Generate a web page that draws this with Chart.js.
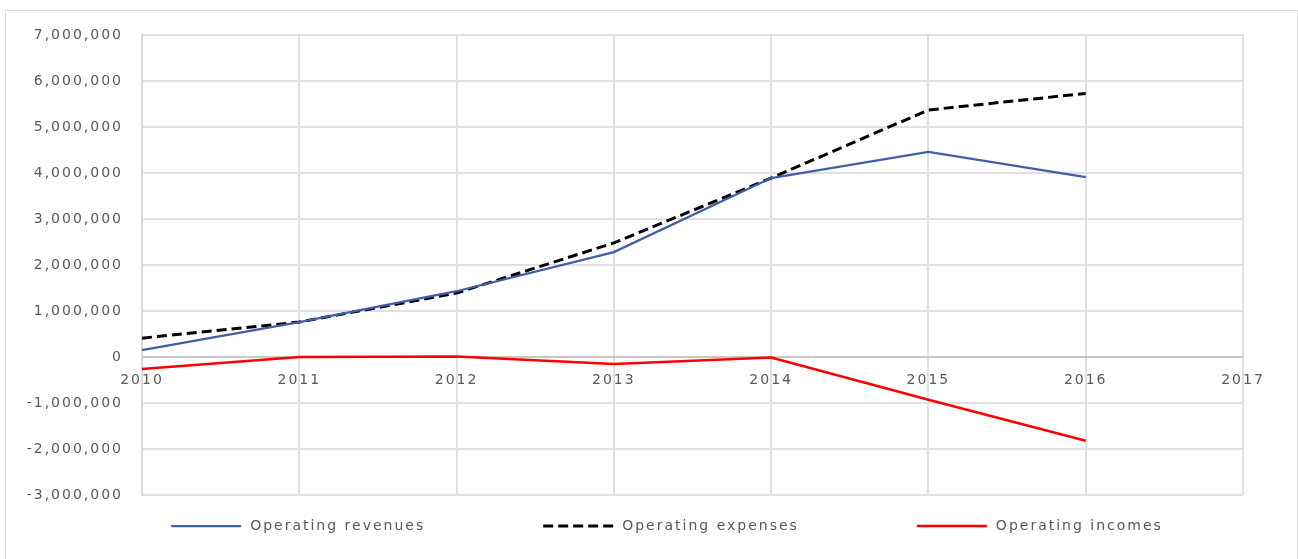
<!DOCTYPE html>
<html>
<head>
<meta charset="utf-8">
<script src="https://cdn.jsdelivr.net/npm/chart.js@4.4.1/dist/chart.umd.min.js"></script>
<style>
  body { margin: 0; background: #fff; overflow: hidden; }
  #wrap { position: relative; width: 1298px; height: 559px; }
  #frame { position: absolute; left: 5px; top: 10px; width: 1291px; height: 600px; border: 1px solid #d9d9d9; }
  #chart { position: absolute; left: 0; top: 0; }
</style>
</head>
<body>
<div id="wrap">
  <div id="frame"></div>
  <canvas id="chart" width="1298" height="559"></canvas>
</div>
<script>
// years on the category axis
var years = ['2010', '2011', '2012', '2013', '2014', '2015', '2016', '2017']
var revenues = [150000, 760000, 1430000, 2280000, 3890000, 4460000, 3910000, null]
var expenses = [410000, 760000, 1390000, 2480000, 3890000, 5370000, 5730000, null]
var incomes = [-260000, 0, 10000, -150000, -10000, -930000, -1820000, null]

var seriesNames = ['Operating revenues', 'Operating expenses', 'Operating incomes']
var yMin = -3000000
var yMax = 7000000
var yStep = 1000000

var textColor = '#595959'
var fontFamily = '"DejaVu Sans", sans-serif'

// wider lettering, the reference text is stretched
var spacing = {
    id: 'spacing',
    beforeUpdate: function (chart) { chart.ctx.letterSpacing = '2px' },
    beforeDraw: function (chart) { chart.ctx.letterSpacing = '2px' }
}

// legend drawn under the plot, items spaced out like the original
var bottomLegend = {
    id: 'bottomLegend',
    afterDraw: function (chart) {
        var ctx = chart.ctx
        var sets = chart.data.datasets
        var sample = 70, gapText = 9, gapItem = 118
        ctx.save()
        ctx.letterSpacing = '2px'
        ctx.font = '14px ' + fontFamily
        ctx.textBaseline = 'middle'
        var widths = sets.map(function (d) { return sample + gapText + ctx.measureText(d.label).width })
        var total = widths.reduce(function (a, b) { return a + b }, 0) + gapItem * (sets.length - 1)
        var x = 667 - total / 2
        var y = 526
        sets.forEach(function (d, i) {
            ctx.beginPath()
            ctx.strokeStyle = d.borderColor
            ctx.lineWidth = d.borderWidth
            ctx.setLineDash(d.borderDash || [])
            ctx.moveTo(x, y)
            ctx.lineTo(x + sample, y)
            ctx.stroke()
            ctx.setLineDash([])
            ctx.fillStyle = textColor
            ctx.fillText(d.label, x + sample + gapText, y)
            x += widths[i] + gapItem
        })
        ctx.restore()
    }
}

var ctx = document.getElementById('chart').getContext('2d')
var myChart = new Chart(ctx, {
    type: 'line',
    data: {
        labels: years,
        datasets: [{
            label: seriesNames[0],
            data: revenues,
            borderColor: '#3f5fa8',
            borderWidth: 2.25,
            pointRadius: 0,
            tension: 0
        }, {
            label: seriesNames[1],
            data: expenses,
            borderColor: '#000000',
            borderWidth: 3,
            borderDash: [10, 5],
            pointRadius: 0,
            tension: 0
        }, {
            label: seriesNames[2],
            data: incomes,
            borderColor: '#ff0000',
            borderWidth: 2.5,
            pointRadius: 0,
            tension: 0
        }]
    },
    options: {
        responsive: false,
        animation: false,
        layout: { padding: { left: 20, right: 55, top: 35, bottom: 64 } },
        plugins: {
            legend: { display: false },
            tooltip: { enabled: false }
        },
        scales: {
            x: {
                position: { y: 0 },
                offset: false,
                grid: { color: '#e0e0e0', lineWidth: 2, drawTicks: false },
                border: { color: '#c8c8c8', width: 2 },
                ticks: {
                    color: textColor,
                    font: { family: fontFamily, size: 14 },
                    padding: 15,
                    autoSkip: false,
                    maxRotation: 0
                }
            },
            y: {
                min: yMin,
                max: yMax,
                afterFit: function (scale) { scale.width = 122 },
                grid: { color: '#e0e0e0', lineWidth: 2, drawTicks: false },
                border: { color: '#d9d9d9', width: 2 },
                ticks: {
                    stepSize: yStep,
                    color: textColor,
                    font: { family: fontFamily, size: 14 },
                    padding: 19,
                    callback: function (v) { return v.toLocaleString('en-US') }
                }
            }
        }
    },
    plugins: [spacing, bottomLegend]
})
</script>
</body>
</html>
